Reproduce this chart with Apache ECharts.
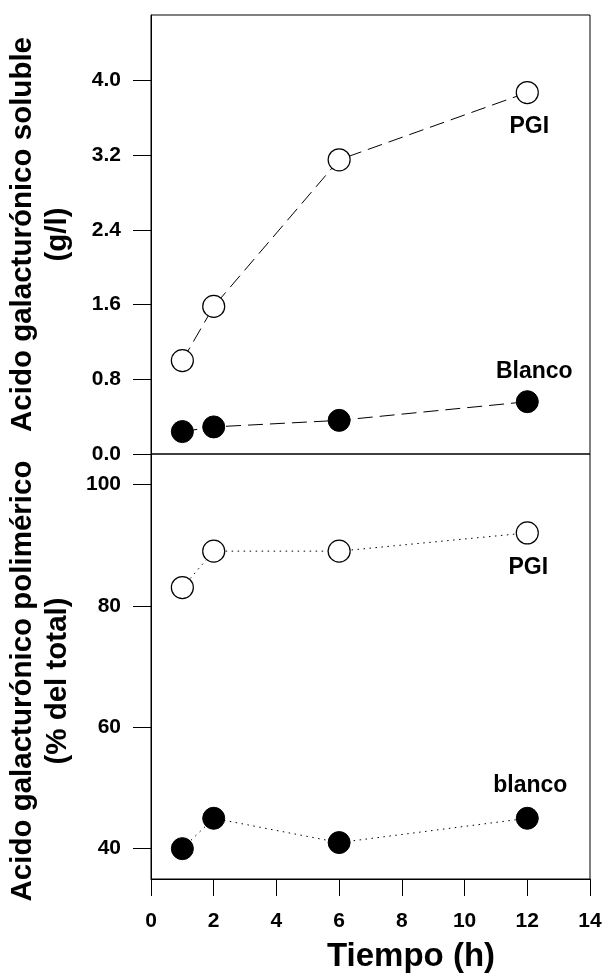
<!DOCTYPE html>
<html>
<head>
<meta charset="utf-8">
<script src="https://cdn.jsdelivr.net/npm/echarts@6/dist/echarts.min.js"></script>
<style>
html,body{margin:0;padding:0;background:#fff;}
#chart{width:604px;height:975px;}
</style>
</head>
<body>
<div id="chart"></div>
<script>
// ---- data ----
const hours = [1, 2, 6, 12];
const solublePGI = [1.0, 1.58, 3.15, 3.87];
const solubleBlanco = [0.24, 0.29, 0.36, 0.56];
const polyPGI = [83, 89, 89, 92];
const polyBlanco = [40, 45, 41, 45];
const xTicks = [0, 2, 4, 6, 8, 10, 12, 14];
const yTicksTop = [0, 0.8, 1.6, 2.4, 3.2, 4.0];
const yTicksBottom = [40, 60, 80, 100];
const topTitle = 'Acido galacturónico soluble\n(g/l)';
const bottomTitle = 'Acido galacturónico polimérico\n(% del total)';
const xTitle = 'Tiempo (h)';
const labelsTop = ['PGI', 'Blanco'];
const labelsBottom = ['PGI', 'blanco'];

const FONT = "Arial, 'Liberation Sans', sans-serif";
const chart = echarts.init(document.getElementById('chart'), null, {renderer: 'canvas'});

function pairs(xs, ys) { return xs.map((x, i) => [x, ys[i]]); }
function withEndLabel(data, text, offset) {
  return data.map((d, i) => i === data.length - 1 ? {
    value: d,
    label: {show: true, position: 'inside', offset: offset, formatter: text,
      color: '#000', fontFamily: FONT, fontWeight: 'bold', fontSize: 23}
  } : {value: d});
}
const openItem = {color: '#fff', borderColor: '#000', borderWidth: 1.2};
const fillItem = {color: '#000', borderColor: '#000', borderWidth: 1};
const axisLabelStyle = {color: '#000', fontFamily: FONT, fontWeight: 'bold', fontSize: 21};
const titleStyle = {color: '#000', fontFamily: FONT, fontWeight: 'bold', fontSize: 29.5, lineHeight: 35};

const option = {
  animation: false,
  backgroundColor: '#fff',
  grid: [
    {left: 151, top: 15, width: 439, height: 439, containLabel: false, outerBoundsMode: 'none', show: true, borderColor: '#000', borderWidth: 1, backgroundColor: 'transparent'},
    {left: 151, top: 454, width: 439, height: 425, containLabel: false, outerBoundsMode: 'none', show: true, borderColor: '#000', borderWidth: 1, backgroundColor: 'transparent'}
  ],
  xAxis: [
    {gridIndex: 0, type: 'value', min: 0, max: 14, show: false},
    {gridIndex: 1, type: 'value', min: 0, max: 14,
      axisLine: {show: true, lineStyle: {color: '#000', width: 1}},
      axisTick: {show: true, inside: false, length: 17, lineStyle: {color: '#000', width: 1}, customValues: xTicks},
      axisLabel: Object.assign({margin: 32, customValues: xTicks, formatter: v => String(v)}, axisLabelStyle),
      splitLine: {show: false}}
  ],
  yAxis: [
    {gridIndex: 0, type: 'value', min: 0, max: 4.7,
      axisLine: {show: true, lineStyle: {color: '#000', width: 1}},
      axisTick: {show: true, inside: false, length: 18, lineStyle: {color: '#000', width: 1}, customValues: yTicksTop},
      axisLabel: Object.assign({margin: 30, customValues: yTicksTop, formatter: v => v.toFixed(1)}, axisLabelStyle),
      splitLine: {show: false},
      name: topTitle, nameLocation: 'middle', nameRotate: 90, nameGap: 76,
      nameTextStyle: Object.assign({}, titleStyle)},
    {gridIndex: 1, type: 'value', min: 35, max: 105,
      axisLine: {show: true, lineStyle: {color: '#000', width: 1}},
      axisTick: {show: true, inside: false, length: 18, lineStyle: {color: '#000', width: 1}, customValues: yTicksBottom},
      axisLabel: Object.assign({margin: 30, customValues: yTicksBottom, formatter: v => String(v)}, axisLabelStyle),
      splitLine: {show: false},
      name: bottomTitle, nameLocation: 'middle', nameRotate: 90, nameGap: 76,
      nameTextStyle: Object.assign({padding: [0, 29, 0, 0]}, titleStyle)}
  ],
  graphic: [
    {type: 'text', x: 411, y: 957, style: {text: xTitle, fill: '#000', font: 'bold 33px ' + FONT, textAlign: 'center', textVerticalAlign: 'middle'}}
  ],
  series: [
    {type: 'line', xAxisIndex: 0, yAxisIndex: 0, data: withEndLabel(pairs(hours, solublePGI), labelsTop[0], [2, 34]),
      symbol: 'circle', symbolSize: 22, itemStyle: openItem,
      lineStyle: {color: '#000', width: 1, type: [15, 7]}},
    {type: 'line', xAxisIndex: 0, yAxisIndex: 0, data: withEndLabel(pairs(hours, solubleBlanco), labelsTop[1], [7, -30]),
      symbol: 'circle', symbolSize: 22, itemStyle: fillItem,
      lineStyle: {color: '#000', width: 1, type: [15, 7]}},
    {type: 'line', xAxisIndex: 1, yAxisIndex: 1, data: withEndLabel(pairs(hours, polyPGI), labelsBottom[0], [1, 35]),
      symbol: 'circle', symbolSize: 22, itemStyle: openItem,
      lineStyle: {color: '#000', width: 1, type: [1.5, 4.5]}},
    {type: 'line', xAxisIndex: 1, yAxisIndex: 1, data: withEndLabel(pairs(hours, polyBlanco), labelsBottom[1], [3, -33]),
      symbol: 'circle', symbolSize: 22, itemStyle: fillItem,
      lineStyle: {color: '#000', width: 1, type: [1.5, 4.5]}}
  ]
};
chart.setOption(option);
</script>
</body>
</html>
